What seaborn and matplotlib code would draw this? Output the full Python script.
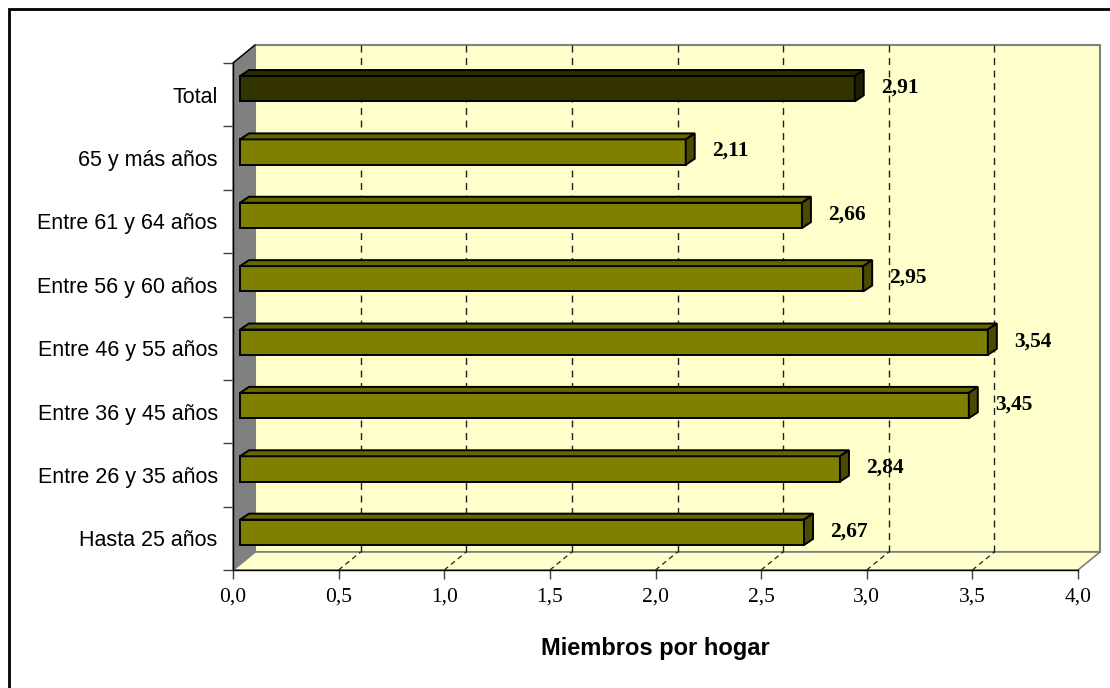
import matplotlib
matplotlib.use("Agg")
import matplotlib.pyplot as plt
import numpy as np
import pandas as pd
import seaborn as sns
from matplotlib.patches import Polygon, Rectangle
from matplotlib.lines import Line2D
from matplotlib.transforms import ScaledTranslation

# ---- data -------------------------------------------------------------
categorias = [
    "Total",
    "65 y más años",
    "Entre 61 y 64 años",
    "Entre 56 y 60 años",
    "Entre 46 y 55 años",
    "Entre 36 y 45 años",
    "Entre 26 y 35 años",
    "Hasta 25 años",
]
miembros = [2.91, 2.11, 2.66, 2.95, 3.54, 3.45, 2.84, 2.67]
x_ticks = [0.0, 0.5, 1.0, 1.5, 2.0, 2.5, 3.0, 3.5, 4.0]
x_tick_labels = ["0,0", "0,5", "1,0", "1,5", "2,0", "2,5", "3,0", "3,5", "4,0"]
x_titulo = "Miembros por hogar"

# ---- style ------------------------------------------------------------
sns.set_theme(style="white")
plt.rcParams["font.family"] = ["Liberation Sans", "DejaVu Sans"]
plt.rcParams["text.color"] = "black"
plt.rcParams["axes.labelcolor"] = "black"
plt.rcParams["xtick.color"] = "black"
plt.rcParams["ytick.color"] = "black"

W, H = 1110, 688
DPI = 100
fig = plt.figure(figsize=(W / DPI, H / DPI), dpi=DPI)
fig.patch.set_facecolor("white")

# front plane of the pseudo-3D box
ax = fig.add_axes([233 / W, 1 - 570 / H, 845 / W, 507 / H])
ax.set_facecolor("none")

EDGE_LW = 1.4

df = pd.DataFrame({"grupo": categorias, "miembros": miembros})
colores = ["#333300"] + ["#808000"] * (len(categorias) - 1)
sns.barplot(data=df, y="grupo", x="miembros", hue="grupo", palette=colores,
            legend=False, orient="h", width=0.4, saturation=1,
            edgecolor="black", linewidth=EDGE_LW, ax=ax, zorder=3)

ax.set_xlim(0, 4)
ax.set_ylim(len(categorias) - 0.5, -0.5)

# depth offsets in pixels (right, up)
WALL_DX, WALL_DY = 22, 18
BAR_OX, BAR_OY = 7, 6
BAR_DX, BAR_DY = 9, 6

to_fig = fig.transFigure.inverted()


def disp(x, y):
    return ax.transData.transform((x, y))


def fig_poly(pts, **kw):
    pts = to_fig.transform(np.asarray(pts, dtype=float))
    p = Polygon(pts, closed=True, transform=fig.transFigure, clip_on=False, **kw)
    ax.add_artist(p)
    return p


def fig_line(p0, p1, **kw):
    (a, b), (c, d) = to_fig.transform(np.array([p0, p1], dtype=float))
    ln = Line2D([a, c], [b, d], transform=fig.transFigure, clip_on=False, **kw)
    ax.add_artist(ln)
    return ln


# walls and floor
x0b, y0b = disp(0, len(categorias) - 0.5)    # front bottom-left
x1b, _ = disp(4, len(categorias) - 0.5)      # front bottom-right
_, y0t = disp(0, -0.5)                       # front top

fig_poly([(x0b + WALL_DX, y0b + WALL_DY), (x1b + WALL_DX, y0b + WALL_DY),
          (x1b + WALL_DX, y0t + WALL_DY), (x0b + WALL_DX, y0t + WALL_DY)],
         facecolor="#FFFFCC", edgecolor="#808080", linewidth=1.5, zorder=0.5)
fig_poly([(x0b, y0b), (x1b, y0b), (x1b + WALL_DX, y0b + WALL_DY),
          (x0b + WALL_DX, y0b + WALL_DY)],
         facecolor="#FFFFCC", edgecolor="#808080", linewidth=1.2, zorder=0.6)
fig_poly([(x0b, y0b), (x0b, y0t), (x0b + WALL_DX, y0t + WALL_DY),
          (x0b + WALL_DX, y0b + WALL_DY)],
         facecolor="#808080", edgecolor="#808080", linewidth=1.0, zorder=0.7)
fig_line((x0b, y0t), (x0b + WALL_DX, y0t + WALL_DY), color="black",
         linewidth=1.0, zorder=0.8)

# dashed gridlines on back wall and floor
for v in x_ticks[1:-1]:
    gx, _ = disp(v, 0)
    fig_line((gx + WALL_DX, y0b + WALL_DY), (gx + WALL_DX, y0t + WALL_DY),
             color="#202020", linewidth=1.0, linestyle=(0, (5, 4)), zorder=0.9)
    fig_line((gx, y0b), (gx + WALL_DX, y0b + WALL_DY),
             color="#202020", linewidth=0.9, linestyle=(0, (4, 3)), zorder=0.9)

# bars: shift front faces into depth, add top and side faces
offset = ScaledTranslation(BAR_OX / DPI, BAR_OY / DPI, fig.dpi_scale_trans)
for bar, color in zip(ax.patches, colores):
    bar.set_transform(ax.transData + offset)
    bx, by = bar.get_x(), bar.get_y()
    bw, bh = bar.get_width(), bar.get_height()
    xl, yt = disp(bx, by)
    xr, yb = disp(bx + bw, by + bh)
    xl += BAR_OX; xr += BAR_OX; yt += BAR_OY; yb += BAR_OY
    base = np.array(matplotlib.colors.to_rgb(color))
    fig_poly([(xl, yt), (xr, yt), (xr + BAR_DX, yt + BAR_DY), (xl + BAR_DX, yt + BAR_DY)],
             facecolor=base * 0.8, edgecolor="black", linewidth=EDGE_LW, zorder=3,
             joinstyle="miter")
    fig_poly([(xr, yb), (xr, yt), (xr + BAR_DX, yt + BAR_DY), (xr + BAR_DX, yb + BAR_DY)],
             facecolor=base * 0.58, edgecolor="black", linewidth=EDGE_LW, zorder=3,
             joinstyle="miter")

# value labels
for i, v in enumerate(miembros):
    xr, yc = disp(v, i)
    lx, ly = to_fig.transform((xr + BAR_OX + 26, yc + BAR_OY + 1))
    fig.text(lx, ly, f"{v:.2f}".replace(".", ","), ha="left", va="center",
             family=["Liberation Serif", "DejaVu Serif"], fontweight="bold",
             fontsize=15.5, color="black", zorder=5)

# axes decoration
for s in ("top", "right"):
    ax.spines[s].set_visible(False)
for s in ("left", "bottom"):
    ax.spines[s].set_color("black")
    ax.spines[s].set_linewidth(1.0)
    ax.spines[s].set_zorder(1)

ax.set_xticks(x_ticks)
ax.set_xticklabels(x_tick_labels, family=["Liberation Serif", "DejaVu Serif"], fontsize=15.5)
ax.tick_params(axis="x", which="major", direction="out", length=6.5, width=1.0,
               color="#404040", labelcolor="black", pad=6, bottom=True)

ax.set_yticks(range(len(categorias)))
ax.set_yticklabels(categorias, fontsize=15.5)
ax.set_yticks(np.arange(-0.5, len(categorias), 1.0), minor=True)
ax.tick_params(axis="y", which="major", length=0, pad=11, labelcolor="black")
ax.tick_params(axis="y", which="minor", direction="out", length=7, width=1.0,
               color="#404040", left=True)
ax.set_ylabel("")
ax.set_xlabel(x_titulo, fontsize=17, fontweight="bold", color="black")
ax.xaxis.set_label_coords(0.5, -0.132)

# outer chart border
fig.add_artist(Rectangle((9 / W, -0.05), 1.2, 1 - 9 / H + 0.05,
                         transform=fig.transFigure, fill=False,
                         edgecolor="black", linewidth=2.0, zorder=10))

fig.savefig("out.png", dpi=DPI)
